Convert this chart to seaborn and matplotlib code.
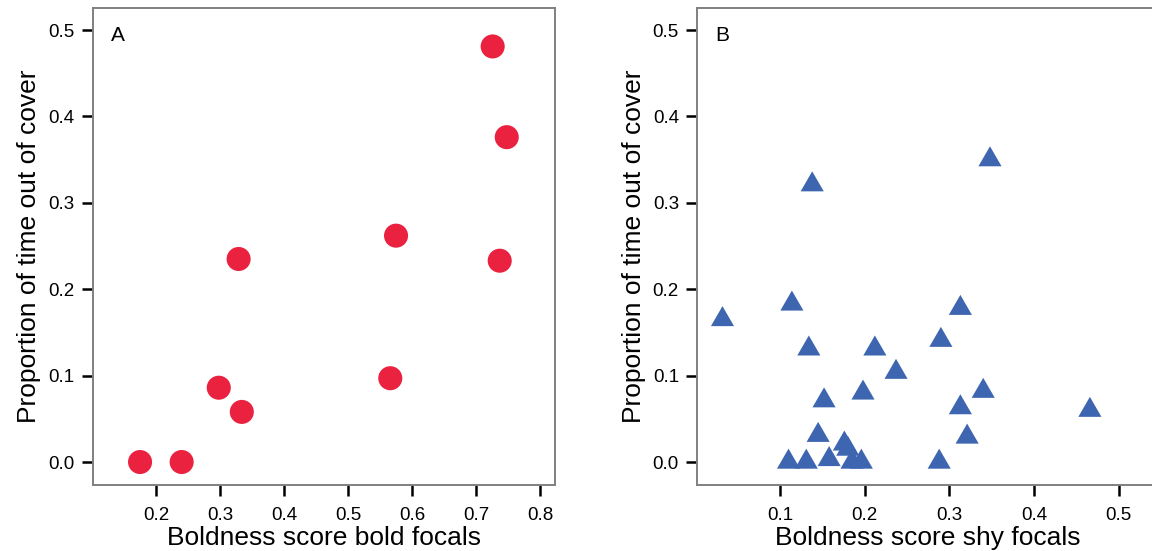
import numpy as np
import pandas as pd
import matplotlib
matplotlib.use("Agg")
import matplotlib.pyplot as plt
import seaborn as sns

# Panel A: bold focals
bold_score = [0.175, 0.240, 0.298, 0.334, 0.329, 0.566, 0.575, 0.726, 0.748, 0.737]
bold_prop = [0.000, 0.000, 0.086, 0.058, 0.235, 0.097, 0.262, 0.481, 0.376, 0.233]

# Panel B: shy focals
shy_score = [0.032, 0.114, 0.138, 0.134, 0.152, 0.145, 0.110, 0.131, 0.158,
             0.176, 0.180, 0.185, 0.196, 0.212, 0.237, 0.198, 0.290, 0.313,
             0.348, 0.340, 0.313, 0.321, 0.288, 0.466]
shy_prop = [0.165, 0.183, 0.321, 0.131, 0.071, 0.031, 0.000, 0.000, 0.003,
            0.021, 0.015, 0.000, 0.000, 0.131, 0.104, 0.080, 0.141, 0.178,
            0.350, 0.082, 0.063, 0.029, 0.000, 0.060]

yticks = [0.0, 0.1, 0.2, 0.3, 0.4, 0.5]
xticks_a = [0.2, 0.3, 0.4, 0.5, 0.6, 0.7, 0.8]
xticks_b = [0.1, 0.2, 0.3, 0.4, 0.5]

sns.set_style("white")
plt.rcParams['font.family'] = ['Liberation Sans', 'DejaVu Sans']

fig = plt.figure(figsize=(11.52, 5.51), dpi=100)
W, H = 1152, 551
axA = fig.add_axes([92.7 / W, 1 - 485 / H, (555 - 92.7) / W, 477 / H])
axB = fig.add_axes([697 / W, 1 - 485 / H, (555 - 92.7) / W, 477 / H])

dfA = pd.DataFrame({"x": bold_score, "y": bold_prop})
dfB = pd.DataFrame({"x": shy_score, "y": shy_prop})

tri = [(-1.0, -0.577), (1.0, -0.577), (0.0, 1.155), (-1.0, -0.577)]

sns.scatterplot(data=dfA, x="x", y="y", ax=axA, color="#EA2240", s=300,
                marker="o", edgecolor="none", linewidth=0, zorder=3)
sns.scatterplot(data=dfB, x="x", y="y", ax=axB, color="#3E66B0", s=370,
                marker=tri, edgecolor="none", linewidth=0, zorder=3)

axA.set_xlim(0.101, 0.8234)
axB.set_xlim(0.0019, 0.548)
for ax, xt, xl, lab in [(axA, xticks_a, "Boldness score bold focals", "A"),
                        (axB, xticks_b, "Boldness score shy focals", "B")]:
    ax.set_ylim(-0.0266, 0.5255)
    ax.set_xticks(xt)
    ax.set_yticks(yticks)
    ax.set_xticklabels([f"{v:.1f}" for v in xt])
    ax.set_yticklabels([f"{v:.1f}" for v in yticks])
    ax.tick_params(axis="both", direction="out", length=8, width=1.8,
                   color="black", labelsize=13.5, labelcolor="black",
                   bottom=True, left=True, top=False, right=False)
    ax.tick_params(axis="x", pad=8)
    ax.tick_params(axis="y", pad=5)
    for sp in ax.spines.values():
        sp.set_visible(True)
        sp.set_color("#808080")
        sp.set_linewidth(1.4)
    ax.set_xlabel(xl, fontsize=19, labelpad=1, color="black")
    ax.set_ylabel("Proportion of time out of cover", fontsize=19,
                  labelpad=5, color="black")
    ax.text(0.04, 0.943, lab, transform=ax.transAxes, fontsize=15,
            ha="left", va="center", color="black")

fig.savefig("out.png", dpi=100)
